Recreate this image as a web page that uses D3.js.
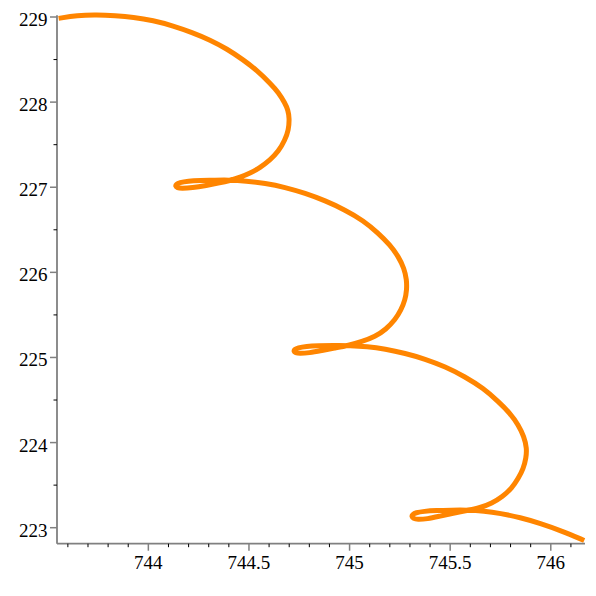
<!DOCTYPE html>
<html>
<head>
<meta charset="utf-8">
<script src="https://cdn.jsdelivr.net/npm/d3@7"></script>
<style>
  body { margin: 0; background: #fff; }
  svg { display: block; }
</style>
</head>
<body>
<svg id="chart" width="596" height="596"></svg>
<script>

// Curve samples (x, y pairs in order along the path).
var curveX = [
  743.554, 743.646, 743.744, 743.835, 743.925, 744.023, 744.124, 744.217,
  744.307, 744.391, 744.472, 744.543, 744.605, 744.647, 744.679, 744.694,
  744.701, 744.697, 744.679, 744.646, 744.605, 744.555, 744.505, 744.456,
  744.406, 744.346, 744.290, 744.217, 744.163, 744.144, 744.134, 744.139,
  744.153, 744.197, 744.257, 744.332, 744.398, 744.486, 744.580, 744.679,
  744.779, 744.878, 744.978, 745.069, 745.143, 745.201, 745.243, 745.271,
  745.284, 745.284, 745.276, 745.256, 745.226, 745.181, 745.127, 745.061,
  744.994, 744.928, 744.862, 744.799, 744.749, 744.732, 744.722, 744.727,
  744.742, 744.784, 744.845, 744.918, 745.003, 745.087, 745.176, 745.276,
  745.375, 745.475, 745.574, 745.665, 745.740, 745.798, 745.839, 745.867,
  745.881, 745.877, 745.864, 745.839, 745.806, 745.759, 745.707, 745.649,
  745.583, 745.514, 745.450, 745.385, 745.336, 745.318, 745.308, 745.313,
  745.328, 745.370, 745.430, 745.505, 745.584, 745.669, 745.748, 745.848,
  745.947, 746.056, 746.166
];
var curveY = [
  228.984, 229.019, 229.025, 229.015, 228.998, 228.960, 228.896, 228.819,
  228.731, 228.625, 228.496, 228.367, 228.222, 228.114, 227.987, 227.908,
  227.811, 227.673, 227.556, 227.418, 227.321, 227.230, 227.165, 227.118,
  227.078, 227.047, 227.021, 226.992, 226.985, 226.993, 227.012, 227.036,
  227.053, 227.072, 227.079, 227.083, 227.086, 227.074, 227.047, 227.000,
  226.930, 226.843, 226.733, 226.608, 226.460, 226.322, 226.185, 226.048,
  225.911, 225.793, 225.676, 225.558, 225.441, 225.331, 225.244, 225.186,
  225.141, 225.112, 225.082, 225.053, 225.046, 225.054, 225.073, 225.094,
  225.114, 225.132, 225.138, 225.141, 225.141, 225.129, 225.100, 225.049,
  224.982, 224.892, 224.774, 224.638, 224.481, 224.344, 224.207, 224.069,
  223.933, 223.816, 223.698, 223.581, 223.463, 223.364, 223.287, 223.235,
  223.202, 223.170, 223.137, 223.102, 223.096, 223.106, 223.134, 223.155,
  223.176, 223.193, 223.202, 223.206, 223.208, 223.196, 223.169, 223.120,
  223.052, 222.961, 222.850
];

// Axis extents and ticks.
var xExtent = [743.546, 746.170];
var yExtent = [222.812, 229.020];
var xMajor = [744, 744.5, 745, 745.5, 746];
var xMinor = [743.6, 743.7, 743.8, 743.9, 744.1, 744.2, 744.3, 744.4,
              744.6, 744.7, 744.8, 744.9, 745.1, 745.2, 745.3, 745.4,
              745.6, 745.7, 745.8, 745.9, 746.1];
var yMajor = [223, 224, 225, 226, 227, 228, 229];
var yMinor = [223.5, 224.5, 225.5, 226.5, 227.5, 228.5];

var font = '"Liberation Serif", "Times New Roman", "DejaVu Serif", serif';
var svg = d3.select('#chart');

// Scales.
var x = d3.scaleLinear().domain(xExtent).range([57, 585]);
var y = d3.scaleLinear().domain(yExtent).range([543.7, 15.3]);

// Curve (B-spline through the dense samples, to smooth reading noise).
var points = curveX.map(function(v, i) { return [v, curveY[i]]; });
var line = d3.line()
  .x(function(d) { return x(d[0]); })
  .y(function(d) { return y(d[1]); })
  .curve(d3.curveBasis);

svg.append('path')
  .attr('d', line(points))
  .attr('fill', 'none')
  .attr('stroke', '#ff8500')
  .attr('stroke-width', 5)
  .attr('stroke-linejoin', 'round');

// Axis lines.
var axes = svg.append('g').attr('stroke', '#808080').attr('stroke-width', 1.8);
axes.append('line')
  .attr('x1', x(xExtent[0])).attr('x2', x(xExtent[1]))
  .attr('y1', y(yExtent[0])).attr('y2', y(yExtent[0]));
axes.append('line')
  .attr('x1', x(xExtent[0])).attr('x2', x(xExtent[0]))
  .attr('y1', y(yExtent[0])).attr('y2', y(yExtent[1]));

// X ticks.
var x0 = y(yExtent[0]);
svg.append('g').selectAll('line').data(xMajor).join('line')
  .attr('x1', x).attr('x2', x)
  .attr('y1', x0).attr('y2', x0 + 7)
  .attr('stroke', '#808080').attr('stroke-width', 1.5);
svg.append('g').selectAll('line').data(xMinor).join('line')
  .attr('x1', x).attr('x2', x)
  .attr('y1', x0).attr('y2', x0 + 3.5)
  .attr('stroke', '#000').attr('stroke-width', 1);
svg.append('g').selectAll('text').data(xMajor).join('text')
  .attr('font-family', font).attr('font-size', 19).attr('fill', '#000')
  .attr('x', x).attr('y', 569.3)
  .attr('text-anchor', 'middle')
  .text(function(d) { return d; });

// Y ticks.
var y0 = x(xExtent[0]);
svg.append('g').selectAll('line').data(yMajor).join('line')
  .attr('y1', y).attr('y2', y)
  .attr('x1', y0).attr('x2', y0 - 7)
  .attr('stroke', '#808080').attr('stroke-width', 1.5);
svg.append('g').selectAll('line').data(yMinor).join('line')
  .attr('y1', y).attr('y2', y)
  .attr('x1', y0).attr('x2', y0 - 3.5)
  .attr('stroke', '#000').attr('stroke-width', 1);
svg.append('g').selectAll('text').data(yMajor).join('text')
  .attr('font-family', font).attr('font-size', 19).attr('fill', '#000')
  .attr('x', 47.5)
  .attr('y', function(d) { return y(d) + 9; })
  .attr('text-anchor', 'end')
  .text(function(d) { return d; });

</script>
</body>
</html>
